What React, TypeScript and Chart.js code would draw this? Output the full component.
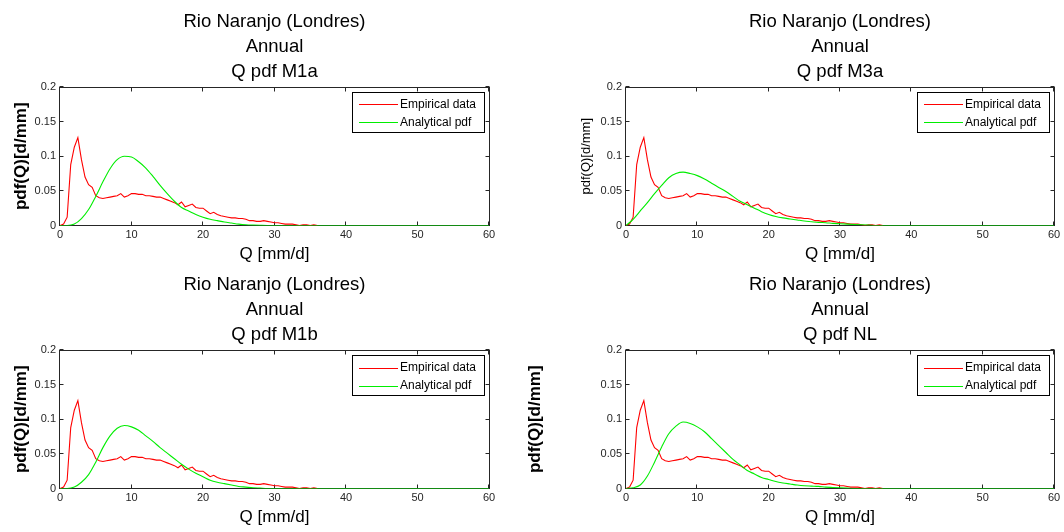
import React, { useEffect, useRef } from "react";
import { Chart, registerables } from "chart.js";

Chart.register(...registerables);

// ---------------- data ----------------
const STATION = "Rio Naranjo (Londres)";
const PERIOD = "Annual";
const MODEL_NAMES = ["M1a", "M3a", "M1b", "NL"];
const X_LABEL = "Q [mm/d]";
const Y_LABEL = "pdf(Q)[d/mm]";
const LEGEND_LABELS = ["Empirical data", "Analytical pdf"];
const X_TICKS = [0, 10, 20, 30, 40, 50, 60];
const Y_TICKS = [0, 0.05, 0.1, 0.15, 0.2];

const EMP_Q = [
  0, 0.5, 1, 1.5, 2, 2.5, 3, 3.5, 4, 4.5, 5, 5.5, 6, 6.5, 7, 7.5, 8, 8.5, 9, 9.5,
  10, 10.5, 11, 11.5, 12, 12.5, 13, 13.5, 14, 14.5, 15, 15.5, 16, 16.5, 17, 17.5,
  18, 18.5, 19, 19.5, 20, 20.5, 21, 21.5, 22, 22.5, 23, 23.5, 24, 24.5, 25, 25.5,
  26, 26.5, 27, 27.5, 28, 28.5, 29, 29.5, 30, 30.5, 31, 31.5, 32, 32.5, 33, 33.5,
  34, 34.5, 35, 35.5, 36,
];
const EMP_PDF = [
  0, 0.002, 0.012, 0.088, 0.113, 0.127, 0.095, 0.07, 0.059, 0.055, 0.043, 0.04,
  0.039, 0.04, 0.041, 0.042, 0.043, 0.046, 0.041, 0.043, 0.046, 0.046, 0.045,
  0.045, 0.043, 0.043, 0.042, 0.041, 0.041, 0.039, 0.037, 0.035, 0.033, 0.03,
  0.034, 0.027, 0.029, 0.031, 0.026, 0.025, 0.025, 0.021, 0.017, 0.019, 0.016,
  0.014, 0.013, 0.012, 0.011, 0.011, 0.01, 0.01, 0.009, 0.007, 0.007, 0.006,
  0.006, 0.007, 0.006, 0.005, 0.004, 0.004, 0.003, 0.002, 0.002, 0.002, 0.001,
  0.0, 0.001, 0.001, 0.0, 0.001, 0.0,
];

const ANA_Q = [
  0, 1, 2, 3, 4, 5, 6, 7, 8, 9, 10, 11, 12, 13, 14, 15, 16, 17, 18, 19, 20, 21,
  22, 23, 24, 25, 26, 27, 28, 29, 30, 31, 32, 33, 34, 35, 40, 45, 50, 55, 60,
];
const PDF_M1A = [
  0, 0, 0.002, 0.01, 0.023, 0.042, 0.063, 0.082, 0.095, 0.1, 0.099, 0.092,
  0.083, 0.071, 0.058, 0.046, 0.035, 0.026, 0.021, 0.016, 0.012, 0.009, 0.007,
  0.005, 0.0035, 0.002, 0.001, 0.0005, 0.0002, 0, 0, 0, 0, 0, 0, 0, 0, 0, 0, 0, 0,
];
const PDF_M3A = [
  0, 0.009, 0.021, 0.033, 0.046, 0.058, 0.069, 0.075, 0.077, 0.075, 0.072,
  0.067, 0.061, 0.055, 0.049, 0.042, 0.035, 0.03, 0.025, 0.02, 0.016, 0.013,
  0.011, 0.0095, 0.008, 0.0065, 0.0055, 0.0045, 0.004, 0.003, 0.0025, 0.002,
  0.0015, 0.001, 0.0005, 0, 0, 0, 0, 0, 0,
];
const PDF_M1B = [
  0, 0, 0.002, 0.009, 0.02, 0.038, 0.059, 0.076, 0.087, 0.091, 0.089, 0.084,
  0.076, 0.068, 0.059, 0.051, 0.043, 0.035, 0.028, 0.022, 0.017, 0.012, 0.009,
  0.007, 0.005, 0.003, 0.002, 0.001, 0.0005, 0, 0, 0, 0, 0, 0, 0, 0, 0, 0, 0, 0,
];
const PDF_NL = [
  0, 0.001, 0.005, 0.018, 0.038, 0.06, 0.079, 0.09, 0.096, 0.094, 0.089, 0.082,
  0.072, 0.062, 0.052, 0.042, 0.034, 0.026, 0.021, 0.016, 0.013, 0.01, 0.008,
  0.0065, 0.005, 0.004, 0.0035, 0.003, 0.002, 0.0015, 0.001, 0.0005, 0, 0, 0, 0,
  0, 0, 0, 0, 0,
];
const ANALYTICAL = [PDF_M1A, PDF_M3A, PDF_M1B, PDF_NL];

// ---------------- styles ----------------
const FONT = "'Liberation Sans', Arial, Helvetica, sans-serif";
const RED = "#ff0000";
const GREEN = "#00ee00";
const AXIS_COLOR = "#262626";
const TICK_TEXT = "#262626";

type PanelLayout = {
  x: number;
  y: number;
  w: number;
  h: number;
  yAxisWidth: number;
  padRight: number;
  yTitleSize: number;
  yTitleBold: boolean;
  yTitlePad: number;
};

const PANELS: PanelLayout[] = [
  { x: 0, y: 0, w: 500, h: 266, yAxisWidth: 60, padRight: 11, yTitleSize: 17, yTitleBold: true, yTitlePad: 11 },
  { x: 500, y: 0, w: 564, h: 266, yAxisWidth: 126, padRight: 10, yTitleSize: 13, yTitleBold: false, yTitlePad: 79 },
  { x: 0, y: 263, w: 500, h: 266, yAxisWidth: 60, padRight: 11, yTitleSize: 17, yTitleBold: true, yTitlePad: 11 },
  { x: 500, y: 263, w: 564, h: 266, yAxisWidth: 126, padRight: 10, yTitleSize: 17, yTitleBold: true, yTitlePad: 25 },
];

const framePlugin = {
  id: "matlabFrame",
  beforeDatasetsDraw(chart: any) {
    const { ctx, chartArea, scales } = chart;
    const l = Math.round(chartArea.left) - 0.5;
    const r = Math.round(chartArea.right) + 0.5;
    const t = Math.round(chartArea.top) + 0.5;
    const b = Math.floor(chartArea.bottom) + 0.5;
    ctx.save();
    ctx.globalAlpha = 1;
    ctx.setLineDash([]);
    ctx.strokeStyle = AXIS_COLOR;
    ctx.lineWidth = 1;
    ctx.strokeRect(l, t, r - l, b - t);
    ctx.beginPath();
    const tl = 4;
    for (const v of X_TICKS) {
      const px = Math.round(scales.x.getPixelForValue(v)) - 0.5;
      ctx.moveTo(px, b);
      ctx.lineTo(px, b - tl);
      ctx.moveTo(px, t);
      ctx.lineTo(px, t + tl);
    }
    for (const v of Y_TICKS) {
      const py = Math.floor(scales.y.getPixelForValue(v)) + 0.5;
      ctx.moveTo(l, py);
      ctx.lineTo(l + tl, py);
      ctx.moveTo(r, py);
      ctx.lineTo(r - tl, py);
    }
    ctx.stroke();
    ctx.restore();
  },
};

function makeLegendPlugin(pageTop: number) {
  return {
    id: "matlabLegend",
    afterDatasetsDraw(chart: any) {
      const { ctx, chartArea } = chart;
      const w = 132;
      const h = 40;
      const left = Math.round(chartArea.right) - 5 - w;
      const top = Math.round(chartArea.top) + 5;
      ctx.save();
      ctx.globalAlpha = 1;
      ctx.setLineDash([]);
      ctx.fillStyle = "#ffffff";
      ctx.fillRect(left, top, w, h);
      ctx.strokeStyle = "#000000";
      ctx.lineWidth = 1;
      ctx.strokeRect(left + 0.5, top + 0.5, w, h);
      const items = [
        { label: LEGEND_LABELS[0], color: RED, dy: 12 },
        { label: LEGEND_LABELS[1], color: GREEN, dy: 30 },
      ];
      ctx.font = `12px ${FONT}`;
      ctx.textBaseline = "middle";
      ctx.textAlign = "left";
      for (const it of items) {
        // keep the 1px sample line on an even page row so its colour survives
        let rowY = top + it.dy;
        if ((pageTop + rowY) % 2 !== 0) rowY += 1;
        ctx.fillStyle = it.color;
        ctx.fillRect(left + 7, rowY, 39, 1);
        ctx.fillStyle = "#000000";
        ctx.fillText(it.label, left + 48, top + it.dy + 1);
      }
      ctx.restore();
    },
  };
}

function Panel({ index }: { index: number }) {
  const ref = useRef<HTMLCanvasElement | null>(null);
  const p = PANELS[index];
  useEffect(() => {
    if (!ref.current) return;
    const empData = EMP_Q.map((q, i) => ({ x: q, y: EMP_PDF[i] }));
    const anaValues = ANALYTICAL[index];
    const anaData = ANA_Q.map((q, i) => ({ x: q, y: anaValues[i] }));
    const chart = new Chart(ref.current, {
      type: "line",
      data: {
        datasets: [
          {
            label: LEGEND_LABELS[0],
            data: empData,
            borderColor: RED,
            backgroundColor: RED,
            borderWidth: 1.1,
            pointRadius: 0,
            tension: 0,
            fill: false,
            order: 2,
          },
          {
            label: LEGEND_LABELS[1],
            data: anaData,
            borderColor: GREEN,
            backgroundColor: GREEN,
            borderWidth: 1.1,
            pointRadius: 0,
            cubicInterpolationMode: "monotone",
            fill: false,
            order: 1,
          },
        ],
      },
      options: {
        responsive: false,
        animation: false,
        devicePixelRatio: 1,
        events: [],
        layout: { padding: { left: 0, right: p.padRight, top: 0, bottom: 0 } },
        plugins: {
          legend: { display: false },
          tooltip: { enabled: false },
          title: {
            display: true,
            text: [STATION, PERIOD, `Q pdf ${MODEL_NAMES[index]}`],
            fullSize: false,
            color: "#000000",
            font: { family: FONT, size: 18.5, weight: "normal", lineHeight: 1.333 },
            padding: { top: 10, bottom: 3 },
          },
        },
        scales: {
          x: {
            type: "linear",
            min: 0,
            max: 60,
            grid: { display: false, drawTicks: false },
            border: { display: false },
            ticks: {
              color: TICK_TEXT,
              font: { family: FONT, size: 11 },
              padding: 3,
              maxRotation: 0,
              callback: (v: any) => String(v),
            },
            afterBuildTicks: (s: any) => {
              s.ticks = X_TICKS.map((v) => ({ value: v }));
            },
            afterFit: (s: any) => {
              s.height = 40.5;
            },
            title: {
              display: true,
              text: X_LABEL,
              color: "#000000",
              font: { family: FONT, size: 17, weight: "normal", lineHeight: 1.2 },
              padding: { top: 0, bottom: 1 },
            },
          },
          y: {
            type: "linear",
            min: 0,
            max: 0.2,
            grid: { display: false, drawTicks: false },
            border: { display: false },
            ticks: {
              color: TICK_TEXT,
              font: { family: FONT, size: 11 },
              padding: 4,
              callback: (v: any) => String(v),
            },
            afterBuildTicks: (s: any) => {
              s.ticks = Y_TICKS.map((v) => ({ value: v }));
            },
            afterFit: (s: any) => {
              s.width = p.yAxisWidth;
            },
            title: {
              display: true,
              text: Y_LABEL,
              color: "#000000",
              font: {
                family: FONT,
                size: p.yTitleSize,
                weight: p.yTitleBold ? "bold" : "normal",
                lineHeight: 1.2,
              },
              padding: { top: p.yTitlePad, bottom: 0 },
            },
          },
        },
      } as any,
      plugins: [framePlugin, makeLegendPlugin(p.y)],
    });
    return () => chart.destroy();
  }, [index]);

  return (
    <canvas
      ref={ref}
      width={p.w}
      height={p.h}
      style={{ position: "absolute", left: p.x, top: p.y, width: p.w, height: p.h }}
    />
  );
}

export default function App() {
  return (
    <div
      style={{
        position: "fixed",
        left: 0,
        top: 0,
        width: 1064,
        height: 532,
        background: "#ffffff",
        overflow: "hidden",
      }}
    >
      {PANELS.map((_, i) => (
        <Panel key={i} index={i} />
      ))}
    </div>
  );
}
